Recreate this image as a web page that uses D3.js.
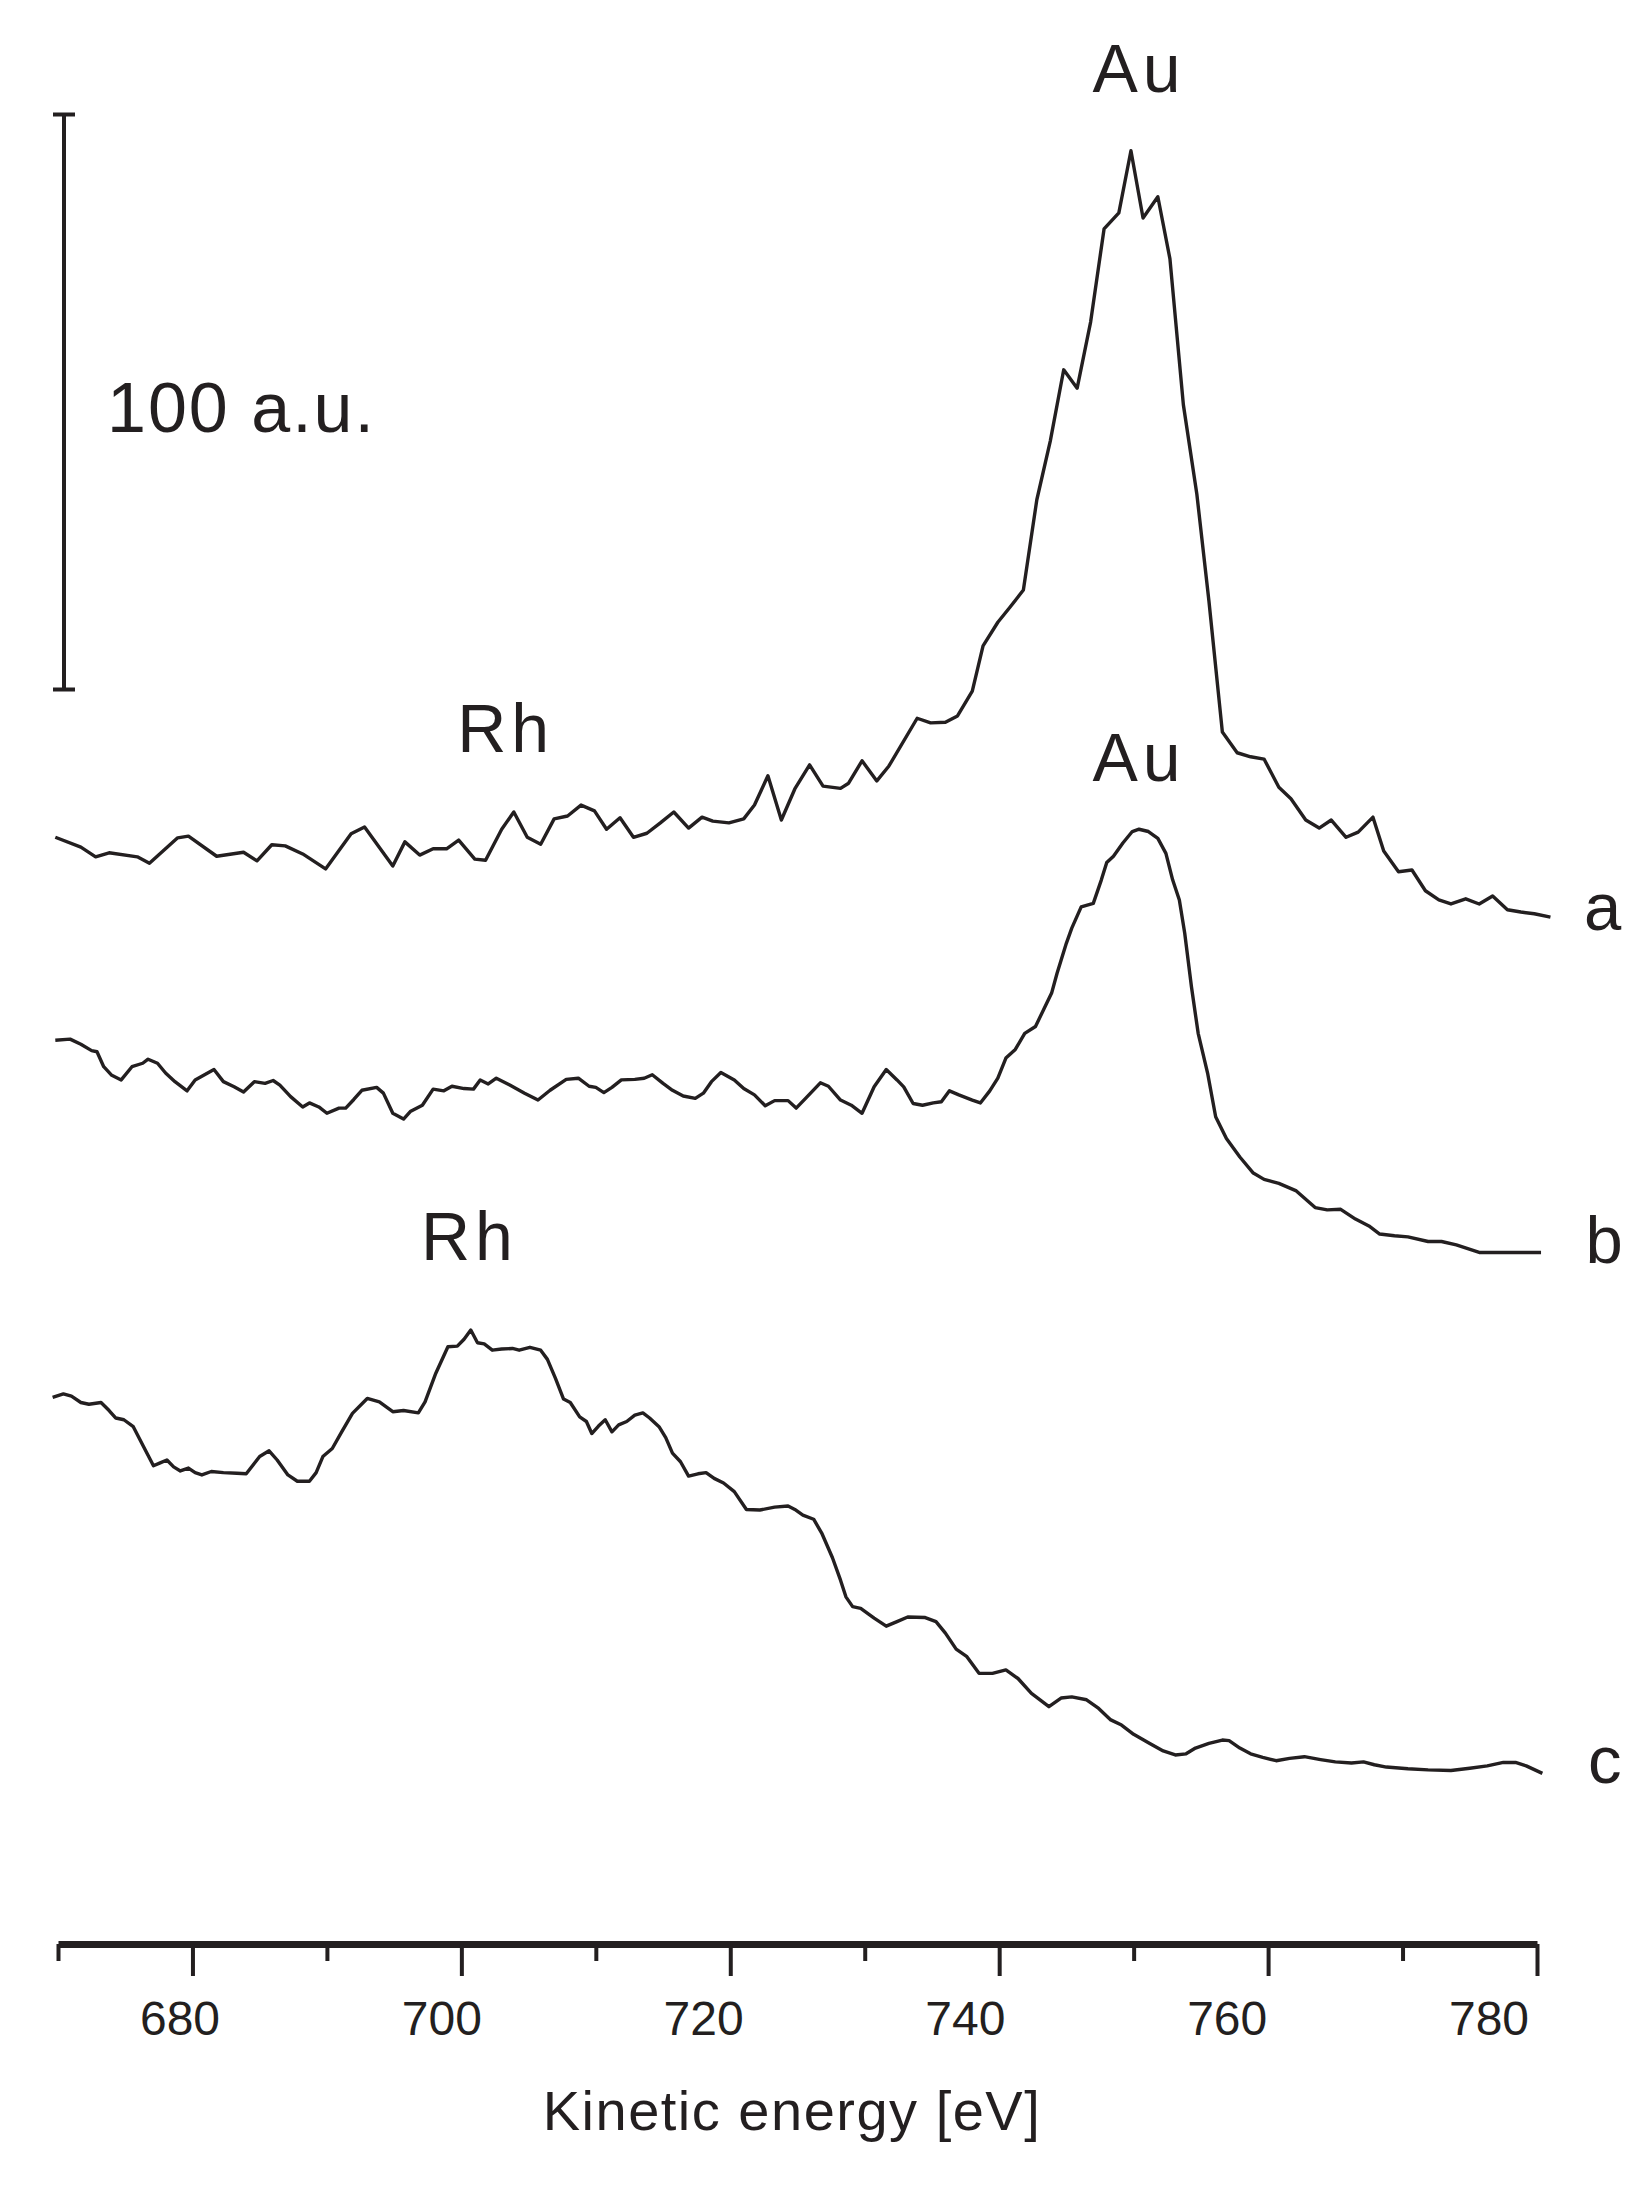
<!DOCTYPE html>
<html>
<head>
<meta charset="utf-8">
<script src="https://cdn.jsdelivr.net/npm/d3@7"></script>
<style>
  body { margin: 0; background: #fff; }
  text { font-family: "Liberation Sans", Arial, sans-serif; fill: #231f20; }
</style>
</head>
<body>
<script>
// spectra: [kinetic energy (eV), intensity (a.u., stacked offset included)]
const spectrumA = [
  [669.8,192.3],[671.7,190.6],[672.8,188.9],[673.8,189.6],[675.9,188.9],[676.8,187.8],
  [678.9,192.2],[679.7,192.5],[681.8,189.0],[683.8,189.7],[684.8,188.2],[685.9,191.0],
  [686.9,190.8],[688.2,189.4],[689.9,186.8],[691.8,192.9],[692.8,194.1],[694.9,187.3],
  [695.8,191.5],[696.9,189.2],[697.9,190.3],[698.9,190.3],[699.8,191.8],[701.0,188.5],
  [701.8,188.3],[703.0,193.7],[703.9,196.7],[704.9,192.3],[705.9,191.1],[706.9,195.5],
  [707.9,196.0],[708.9,197.9],[709.9,196.9],[710.8,193.7],[711.8,195.7],[712.8,192.3],
  [713.8,193.0],[714.8,194.8],[715.8,196.7],[716.9,193.9],[717.9,195.8],[718.7,195.1],
  [719.9,194.8],[721.0,195.5],[721.8,197.9],[722.8,203.0],[723.8,195.3],[724.8,200.7],
  [725.9,204.9],[726.9,201.2],[728.2,200.8],[728.8,201.7],[729.8,205.6],[730.9,202.1],
  [731.8,204.7],[733.9,213.0],[734.9,212.2],[736.0,212.3],[736.9,213.4],[738.0,217.7],
  [738.8,225.6],[739.9,229.7],[740.8,232.3],[741.8,235.3],[742.8,251.0],[743.8,261.2],
  [744.8,273.6],[745.8,270.4],[746.8,281.9],[747.8,298.1],[748.9,300.9],[749.8,311.7],
  [750.7,300.0],[751.8,303.7],[752.7,292.9],[753.7,267.5],[754.7,252.0],[755.6,233.4],
  [756.6,210.6],[757.7,207.0],[758.7,206.3],[759.7,205.9],[760.8,201.0],[761.7,199.0],
  [762.8,195.3],[763.8,193.9],[764.7,195.3],[765.8,192.3],[766.7,193.2],[767.8,195.8],
  [768.6,189.9],[769.7,186.3],[770.7,186.6],[771.7,183.0],[772.7,181.4],[773.6,180.7],
  [774.7,181.6],[775.7,180.7],[776.7,182.1],[777.8,179.7],[778.8,179.3],[779.8,179.0],
  [781.0,178.4]
];

const spectrumB = [
  [669.8,157.0],[670.9,157.2],[671.7,156.3],[672.5,155.2],[672.9,155.0],[673.4,152.4],
  [674.0,150.9],[674.7,150.1],[675.5,152.4],[676.3,153.0],[676.7,153.7],[677.4,153.0],
  [678.0,151.3],[678.7,149.8],[679.6,148.2],[680.2,150.1],[680.9,151.0],[681.6,151.9],
  [682.3,149.8],[683.1,148.9],[683.8,148.0],[684.6,149.8],[685.4,149.5],[686.0,150.0],
  [686.5,149.2],[687.3,147.2],[688.2,145.4],[688.7,146.1],[689.4,145.4],[690.0,144.3],
  [690.9,145.2],[691.4,145.2],[692.0,146.7],[692.6,148.3],[693.7,148.8],[694.2,147.8],
  [694.9,144.3],[695.7,143.3],[696.2,144.6],[697.1,145.7],[697.9,148.5],[698.7,148.2],
  [699.3,149.0],[700.2,148.6],[700.9,148.5],[701.4,150.1],[702.0,149.4],[702.6,150.4],
  [703.6,149.2],[704.7,147.8],[705.7,146.6],[706.6,148.3],[707.8,150.2],[708.7,150.4],
  [709.5,149.0],[710.0,148.8],[710.6,147.9],[711.2,148.8],[711.9,150.1],[712.9,150.2],
  [713.6,150.4],[714.2,151.0],[715.0,149.5],[715.7,148.3],[716.5,147.3],[717.4,146.9],
  [718.0,147.8],[718.6,149.8],[719.3,151.4],[720.3,150.1],[721.0,148.6],[721.8,147.5],
  [722.6,145.6],[723.3,146.5],[724.3,146.5],[724.9,145.2],[725.6,146.9],[726.7,149.6],
  [727.3,149.0],[728.2,146.6],[729.0,145.7],[729.8,144.3],[730.7,148.9],[731.6,151.9],
  [732.4,150.1],[732.9,148.9],[733.6,146.0],[734.3,145.7],[735.1,146.1],[735.7,146.3],
  [736.3,148.2],[737.0,147.5],[738.0,146.6],[738.6,146.1],[739.3,148.2],[739.9,150.4],
  [740.5,153.9],[741.2,155.4],[741.9,158.2],[742.7,159.4],[743.3,162.3],[743.9,165.2],
  [744.3,168.6],[745.0,173.9],[745.4,176.5],[746.1,180.2],[747.0,180.8],[747.6,184.9],
  [748.0,187.9],[748.5,189.0],[749.2,191.3],[749.9,193.3],[750.4,193.7],[751.1,193.3],
  [751.8,192.1],[752.4,189.5],[752.9,184.9],[753.4,181.4],[753.8,175.6],[754.3,166.3],
  [754.8,158.2],[755.5,151.3],[756.1,143.7],[756.9,139.9],[757.9,136.7],[758.9,133.9],
  [759.7,132.8],[760.8,132.1],[762.1,130.8],[763.5,127.9],[764.4,127.5],[765.4,127.6],
  [766.5,125.9],[767.5,124.7],[768.3,123.3],[769.4,123.0],[770.4,122.8],[771.9,122.0],
  [772.9,122.0],[774.0,121.4],[775.7,120.1],[778.0,120.1],[780.3,120.1]
];

const spectrumC = [
  [669.6,94.9],[670.4,95.5],[671.0,95.1],[671.7,94.0],[672.3,93.7],[673.2,94.0],
  [673.8,92.6],[674.3,91.3],[674.9,91.0],[675.6,89.8],[676.3,86.6],[677.1,83.0],
  [677.6,83.5],[678.1,84.0],[678.6,82.8],[679.1,82.1],[679.7,82.6],[680.2,81.8],
  [680.7,81.4],[681.4,82.0],[682.3,81.8],[683.3,81.7],[684.0,81.6],[685.0,84.6],
  [685.7,85.6],[686.3,84.0],[687.1,81.4],[687.8,80.3],[688.7,80.3],[689.2,81.8],
  [689.7,84.6],[690.4,86.0],[691.1,88.9],[691.9,92.1],[693.0,94.7],[693.9,94.1],
  [694.9,92.4],[695.7,92.6],[696.8,92.2],[697.3,94.1],[698.1,99.1],[699.0,103.7],
  [699.7,103.8],[700.2,105.0],[700.7,106.6],[701.2,104.4],[701.7,104.2],[702.3,103.1],
  [703.0,103.3],[703.8,103.4],[704.3,103.1],[705.1,103.6],[705.9,103.1],[706.4,101.5],
  [707.0,98.2],[707.6,94.6],[708.1,94.0],[708.8,91.5],[709.3,90.7],[709.7,88.6],
  [710.2,89.9],[710.7,91.0],[711.2,88.9],[711.7,90.1],[712.3,90.7],[712.9,91.8],
  [713.5,92.2],[714.0,91.3],[714.7,89.8],[715.2,87.9],[715.7,85.2],[716.3,83.7],
  [716.9,81.2],[717.6,81.6],[718.2,81.8],[718.8,80.8],[719.5,80.0],[720.3,78.5],
  [721.2,75.4],[722.2,75.3],[723.3,75.8],[724.3,76.0],[724.8,75.4],[725.4,74.4],
  [726.2,73.7],[726.8,71.3],[727.6,67.0],[728.2,63.1],[728.6,60.2],[729.1,58.5],
  [729.7,58.2],[730.7,56.5],[731.6,55.1],[732.4,55.9],[733.2,56.7],[734.5,56.6],
  [735.3,55.9],[736.0,53.9],[736.8,51.1],[737.6,49.8],[738.5,46.9],[739.5,46.9],
  [740.5,47.5],[741.4,46.0],[742.4,43.4],[743.7,41.1],[744.6,42.6],[745.4,42.8],
  [746.5,42.3],[747.4,40.8],[748.3,38.8],[749.1,37.9],[750.0,36.3],[751.2,34.7],
  [752.2,33.4],[753.1,32.7],[753.9,32.9],[754.6,33.9],[755.6,34.7],[756.6,35.3],
  [757.1,35.2],[757.9,33.9],[758.7,32.9],[759.6,32.3],[760.6,31.7],[761.6,32.1],
  [762.7,32.4],[763.9,31.9],[765.0,31.5],[766.2,31.3],[767.1,31.5],[767.9,31.0],
  [768.8,30.6],[770.4,30.3],[771.9,30.1],[773.6,30.0],[775.0,30.4],[776.3,30.8],
  [777.5,31.4],[778.4,31.4],[779.2,30.8],[780.4,29.5]
];

const series = [spectrumA, spectrumB, spectrumC];

// x axis ticks
const majorTicks = [680, 700, 720, 740, 760, 780];
const minorTicks = [670, 690, 710, 730, 750, 770];
const tickLabels = ["680", "700", "720", "740", "760", "780"];

// 100 a.u. intensity scale bar, [bottom, top]
const scaleBar = [218, 318];

// peak / trace annotations: [energy, intensity, text]
const peakLabels = [
  [750.4, 321.9, "Au"],
  [750.4, 202.1, "Au"],
  [703.3, 207.1, "Rh"],
  [700.6, 118.8, "Rh"]
];
const traceLabels = [
  [783.5, 176.2, "a"],
  [783.6, 118.3, "b"],
  [783.8, 27.8, "c"]
];

const width = 1651, height = 2186;
const axisY = 1944;
const ink = "#231f20";

const x = d3.scaleLinear().domain([670, 780]).range([58, 1537]);
// tick numbers in the figure sit on a slightly tighter spacing than the ticks
const xLabel = d3.scaleLinear().domain([680, 780]).range([180, 1489]);
const y = d3.scaleLinear().domain([0, 100]).range([1943, 1368]);

const svg = d3.select("body").append("svg")
  .attr("width", width)
  .attr("height", height);

svg.append("rect").attr("width", width).attr("height", height).attr("fill", "#fff");

// spectra
const line = d3.line()
  .x(d => x(d[0]))
  .y(d => y(d[1]));

svg.selectAll("path.trace")
  .data(series)
  .enter().append("path")
    .attr("class", "trace")
    .attr("d", line)
    .attr("fill", "none")
    .attr("stroke", ink)
    .attr("stroke-width", 3.4)
    .attr("stroke-linejoin", "round");

// x axis: thick baseline with long major and short minor ticks
const gAxis = svg.append("g").attr("transform", `translate(0,${axisY})`);

gAxis.append("g")
  .call(d3.axisBottom(x).tickValues(majorTicks).tickSize(32).tickSizeOuter(0).tickFormat(""))
  .call(g => g.select(".domain").attr("stroke", ink).attr("stroke-width", 7))
  .call(g => g.selectAll(".tick line").attr("stroke", ink).attr("stroke-width", 4));

gAxis.append("g")
  .call(d3.axisBottom(x).tickValues(minorTicks).tickSize(17).tickSizeOuter(0).tickFormat(""))
  .call(g => g.select(".domain").remove())
  .call(g => g.selectAll(".tick line").attr("stroke", ink).attr("stroke-width", 4));

svg.selectAll("text.tick-label")
  .data(majorTicks)
  .enter().append("text")
    .attr("class", "tick-label")
    .attr("x", d => xLabel(d))
    .attr("y", 2035)
    .attr("text-anchor", "middle")
    .attr("font-size", 48)
    .text((d, i) => tickLabels[i]);

svg.append("text")
  .attr("x", 792)
  .attr("y", 2130)
  .attr("text-anchor", "middle")
  .attr("font-size", 56)
  .attr("letter-spacing", 1.5)
  .text("Kinetic energy [eV]");

// scale bar
const barX = 64;
const gBar = svg.append("g").attr("stroke", ink);
gBar.append("line")
  .attr("x1", barX).attr("x2", barX)
  .attr("y1", y(scaleBar[0])).attr("y2", y(scaleBar[1]))
  .attr("stroke-width", 4);
gBar.selectAll("line.cap")
  .data(scaleBar)
  .enter().append("line")
    .attr("class", "cap")
    .attr("x1", barX - 11).attr("x2", barX + 11)
    .attr("y1", d => y(d)).attr("y2", d => y(d))
    .attr("stroke-width", 4);

svg.append("text")
  .attr("x", 107)
  .attr("y", 432)
  .attr("font-size", 70)
  .attr("letter-spacing", 2)
  .text("100 a.u.");

// annotations
svg.selectAll("text.peak")
  .data(peakLabels)
  .enter().append("text")
    .attr("class", "peak")
    .attr("x", d => x(d[0]))
    .attr("y", d => y(d[1]))
    .attr("text-anchor", "middle")
    .attr("font-size", 68)
    .attr("letter-spacing", 5)
    .text(d => d[2]);

svg.selectAll("text.trace-label")
  .data(traceLabels)
  .enter().append("text")
    .attr("class", "trace-label")
    .attr("x", d => x(d[0]))
    .attr("y", d => y(d[1]))
    .attr("font-size", 67)
    .text(d => d[2]);
</script>
</body>
</html>
